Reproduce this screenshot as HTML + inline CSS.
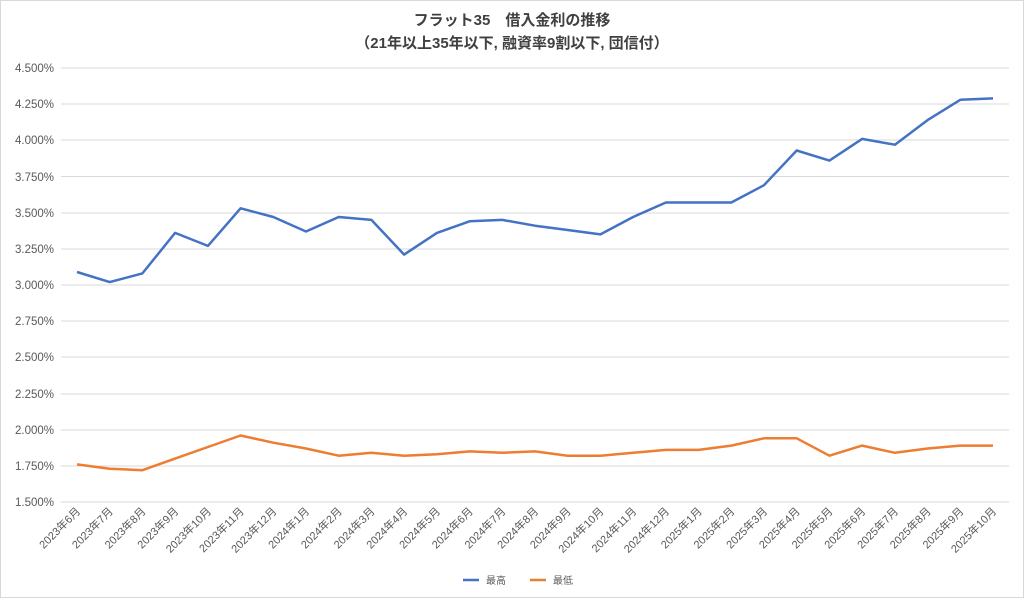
<!DOCTYPE html>
<html><head><meta charset="utf-8"><style>
body{margin:0;background:#fff;}
svg{display:block;font-family:"Liberation Sans","Noto Sans CJK JP",sans-serif;}
</style></head><body>
<svg width="1024" height="598" viewBox="0 0 1024 598" xmlns="http://www.w3.org/2000/svg">
<rect x="0.5" y="0.5" width="1023" height="597" fill="#fff" stroke="#d9d9d9"/>
<text x="512" y="25" text-anchor="middle" font-size="15" font-weight="bold" fill="#404040">フラット35　借入金利の推移</text>
<text x="512" y="48" text-anchor="middle" font-size="15" font-weight="bold" fill="#404040">（21年以上35年以下, 融資率9割以下, 団信付）</text>
<g stroke="#d9d9d9" stroke-width="1">
<line x1="61" x2="1009" y1="68" y2="68"/><line x1="61" x2="1009" y1="104" y2="104"/><line x1="61" x2="1009" y1="140" y2="140"/><line x1="61" x2="1009" y1="176.5" y2="176.5"/><line x1="61" x2="1009" y1="213" y2="213"/><line x1="61" x2="1009" y1="249" y2="249"/><line x1="61" x2="1009" y1="285" y2="285"/><line x1="61" x2="1009" y1="321" y2="321"/><line x1="61" x2="1009" y1="357" y2="357"/><line x1="61" x2="1009" y1="394" y2="394"/><line x1="61" x2="1009" y1="430" y2="430"/><line x1="61" x2="1009" y1="466" y2="466"/><line x1="61" x2="1009" y1="502" y2="502"/>
</g>
<g font-size="11.5" fill="#595959" text-anchor="end">
<text x="54" y="72">4.500%</text><text x="54" y="108">4.250%</text><text x="54" y="144">4.000%</text><text x="54" y="181">3.750%</text><text x="54" y="217">3.500%</text><text x="54" y="253">3.250%</text><text x="54" y="289">3.000%</text><text x="54" y="325">2.750%</text><text x="54" y="361">2.500%</text><text x="54" y="398">2.250%</text><text x="54" y="434">2.000%</text><text x="54" y="470">1.750%</text><text x="54" y="506">1.500%</text>
</g>
<g font-size="11" fill="#595959" text-anchor="end">
<text x="81" y="512" transform="rotate(-45 81 512)">2023年6月</text>
<text x="113.7" y="512" transform="rotate(-45 113.7 512)">2023年7月</text>
<text x="146.4" y="512" transform="rotate(-45 146.4 512)">2023年8月</text>
<text x="179.1" y="512" transform="rotate(-45 179.1 512)">2023年9月</text>
<text x="211.9" y="512" transform="rotate(-45 211.9 512)">2023年10月</text>
<text x="244.6" y="512" transform="rotate(-45 244.6 512)">2023年11月</text>
<text x="277.3" y="512" transform="rotate(-45 277.3 512)">2023年12月</text>
<text x="310" y="512" transform="rotate(-45 310 512)">2024年1月</text>
<text x="342.7" y="512" transform="rotate(-45 342.7 512)">2024年2月</text>
<text x="375.4" y="512" transform="rotate(-45 375.4 512)">2024年3月</text>
<text x="408.1" y="512" transform="rotate(-45 408.1 512)">2024年4月</text>
<text x="440.9" y="512" transform="rotate(-45 440.9 512)">2024年5月</text>
<text x="473.6" y="512" transform="rotate(-45 473.6 512)">2024年6月</text>
<text x="506.3" y="512" transform="rotate(-45 506.3 512)">2024年7月</text>
<text x="539" y="512" transform="rotate(-45 539 512)">2024年8月</text>
<text x="571.7" y="512" transform="rotate(-45 571.7 512)">2024年9月</text>
<text x="604.4" y="512" transform="rotate(-45 604.4 512)">2024年10月</text>
<text x="637.1" y="512" transform="rotate(-45 637.1 512)">2024年11月</text>
<text x="669.9" y="512" transform="rotate(-45 669.9 512)">2024年12月</text>
<text x="702.6" y="512" transform="rotate(-45 702.6 512)">2025年1月</text>
<text x="735.3" y="512" transform="rotate(-45 735.3 512)">2025年2月</text>
<text x="768" y="512" transform="rotate(-45 768 512)">2025年3月</text>
<text x="800.7" y="512" transform="rotate(-45 800.7 512)">2025年4月</text>
<text x="833.4" y="512" transform="rotate(-45 833.4 512)">2025年5月</text>
<text x="866.1" y="512" transform="rotate(-45 866.1 512)">2025年6月</text>
<text x="898.9" y="512" transform="rotate(-45 898.9 512)">2025年7月</text>
<text x="931.6" y="512" transform="rotate(-45 931.6 512)">2025年8月</text>
<text x="964.3" y="512" transform="rotate(-45 964.3 512)">2025年9月</text>
<text x="997" y="512" transform="rotate(-45 997 512)">2025年10月</text>
</g>
<polyline fill="none" stroke="#4472c4" stroke-width="2.5" stroke-linejoin="round" points="77,272 109.7,282.1 142.4,273.4 175.1,232.9 207.9,245.9 240.6,208.3 273.3,217 306,231.5 338.7,217 371.4,219.9 404.1,254.6 436.9,232.9 469.6,221.3 502.3,219.9 535,225.7 567.7,230 600.4,234.4 633.1,217 665.9,202.5 698.6,202.5 731.3,202.5 764,185.2 796.7,150.5 829.4,160.6 862.1,138.9 894.9,144.7 927.6,120.1 960.3,99.8 993,98.4"/>
<polyline fill="none" stroke="#ed7d31" stroke-width="2.5" stroke-linejoin="round" points="77,464.4 109.7,468.7 142.4,470.2 175.1,458.6 207.9,447 240.6,435.5 273.3,442.7 306,448.5 338.7,455.7 371.4,452.8 404.1,455.7 436.9,454.3 469.6,451.4 502.3,452.8 535,451.4 567.7,455.7 600.4,455.7 633.1,452.8 665.9,449.9 698.6,449.9 731.3,445.6 764,438.3 796.7,438.3 829.4,455.7 862.1,445.6 894.9,452.8 927.6,448.5 960.3,445.6 993,445.6"/>
<line x1="463" x2="479" y1="580" y2="580" stroke="#4472c4" stroke-width="2.5"/>
<text x="486" y="584" font-size="10" fill="#595959">最高</text>
<line x1="530" x2="546" y1="580" y2="580" stroke="#ed7d31" stroke-width="2.5"/>
<text x="553" y="584" font-size="10" fill="#595959">最低</text>
</svg>
</body></html>
